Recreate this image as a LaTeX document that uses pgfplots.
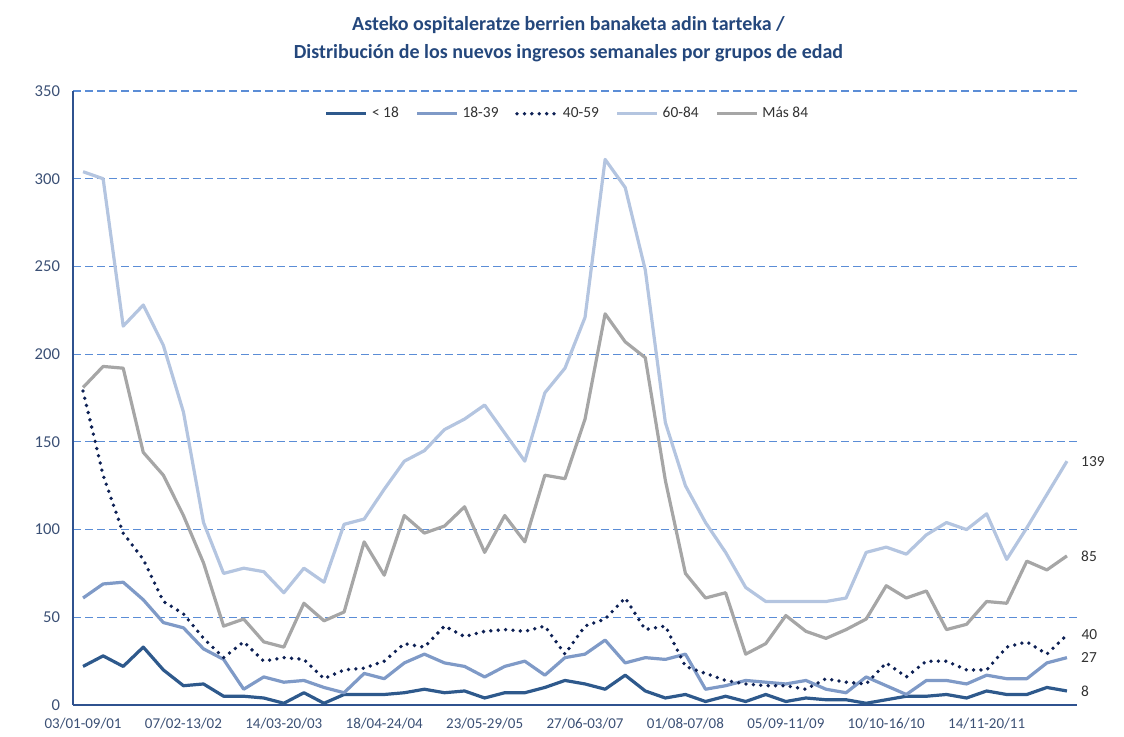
\documentclass[border=0pt]{standalone}
\usepackage{fontspec}
\setmainfont{Carlito}
\usepackage{pgfplots}
\usepackage{pgfplotstable}
\pgfplotsset{compat=1.18}
\definecolor{cA}{RGB}{46,89,140}
\definecolor{cB}{RGB}{127,154,199}
\definecolor{cC}{RGB}{13,32,84}
\definecolor{cD}{RGB}{180,197,224}
\definecolor{cE}{RGB}{166,166,166}
\definecolor{gridc}{RGB}{91,141,214}
\definecolor{axisc}{RGB}{47,82,143}
\definecolor{tickc}{RGB}{59,80,117}
\definecolor{titlec}{RGB}{36,71,124}
\definecolor{legc}{RGB}{50,50,50}
\pgfplotstableread{
x u18 a1839 a4059 a6084 m84
0  22 61 179 304 181
1  28 69 131 300 193
2  22 70 98 216 192
3  33 60 83 228 144
4  20 47 59 205 131
5  11 44 52 167 108
6  12 32 38 104 81
7  5 26 27 75 45
8  5 9 36 78 49
9  4 16 25 76 36
10 1 13 27 64 33
11 7 14 26 78 58
12 1 10 15 70 48
13 6 7 20 103 53
14 6 18 21 106 93
15 6 15 25 123 74
16 7 24 35 139 108
17 9 29 33 145 98
18 7 24 45 157 102
19 8 22 39 163 113
20 4 16 42 171 87
21 7 22 43 155 108
22 7 25 42 139 93
23 10 17 45 178 131
24 14 27 29 192 129
25 12 29 45 221 163
26 9 37 49 311 223
27 17 24 61 295 207
28 8 27 43 248 198
29 4 26 45 161 128
30 6 29 22 125 75
31 2 9 18 104 61
32 5 11 14 87 64
33 2 14 12 67 29
34 6 13 11 59 35
35 2 12 11 59 51
36 4 14 9 59 42
37 3 9 15 59 38
38 3 7 13 61 43
39 1 16 12 87 49
40 3 11 24 90 68
41 5 6 16 86 61
42 5 14 25 97 65
43 6 14 25 104 43
44 4 12 20 100 46
45 8 17 20 109 59
46 6 15 33 83 58
47 6 15 36 101 82
48 10 24 29 120 77
49 8 27 40 139 85
}\data
\begin{document}
\begin{tikzpicture}
\useasboundingbox (-36.5pt,-15.5pt) rectangle (525.5pt,352.5pt);
\begin{axis}[
  scale only axis, width=502pt, height=307pt,
  xmin=-0.5, xmax=49.5, ymin=0, ymax=350,
  axis x line*=bottom, axis y line*=left,
  xtick={0,5,...,45},
  xticklabels={03/01-09/01,07/02-13/02,14/03-20/03,18/04-24/04,23/05-29/05,27/06-03/07,01/08-07/08,05/09-11/09,10/10-16/10,14/11-20/11},
  ytick={0,50,...,350},
  major tick length=0pt,
  ymajorgrids,
  grid style={dash pattern=on 4pt off 2pt, gridc, line width=0.6pt},
  axis line style={axisc, line width=0.8pt},
  tick label style={font=\fontsize{7.5}{9}\selectfont, text=tickc},
  /pgf/number format/assume math mode=true,
  xticklabel style={yshift=-3pt},
  yticklabel style={xshift=-3pt, font=\fontsize{8.3}{10}\selectfont},
  clip=false,
  legend columns=5,
  legend cell align=left,
  legend style={draw=none, fill=none, at={(0.4935,0.963)}, anchor=center,
    font=\fontsize{7.7}{9}\selectfont, text=legc,
    /tikz/every even column/.append style={column sep=6.3pt}},
  legend image code/.code={\draw[#1] (0pt,0pt) -- (20pt,0pt);},
  every axis plot/.append style={line join=round},
]
\addplot[cA, line width=1.6pt] table[x=x,y=u18]{\data} node[pos=1,anchor=west,xshift=3pt,text=legc,font=\fontsize{7.7}{9}\selectfont]{8};
\addlegendentry{< 18}
\addplot[cB, line width=1.6pt] table[x=x,y=a1839]{\data} node[pos=1,anchor=west,xshift=3pt,text=legc,font=\fontsize{7.7}{9}\selectfont]{27};
\addlegendentry{18-39}
\addplot[cC, line width=1.9pt, dash pattern=on 0pt off 3.7pt, line cap=round] table[x=x,y=a4059]{\data} node[pos=1,anchor=west,xshift=3pt,text=legc,font=\fontsize{7.7}{9}\selectfont]{40};
\addlegendentry{40-59}
\addplot[cD, line width=1.6pt] table[x=x,y=a6084]{\data} node[pos=1,anchor=west,xshift=3pt,text=legc,font=\fontsize{7.7}{9}\selectfont]{139};
\addlegendentry{60-84}
\addplot[cE, line width=1.6pt] table[x=x,y=m84]{\data} node[pos=1,anchor=west,xshift=3pt,text=legc,font=\fontsize{7.7}{9}\selectfont]{85};
\addlegendentry{Más 84}
\node[anchor=base, font=\bfseries\fontsize{10}{12}\selectfont, text=titlec] at ([yshift=30.5pt]rel axis cs:0.4935,1) {Asteko ospitaleratze berrien banaketa adin tarteka /};
\node[anchor=base, font=\bfseries\fontsize{10}{12}\selectfont, text=titlec] at ([yshift=16.5pt]rel axis cs:0.4935,1) {Distribución de los nuevos ingresos semanales por grupos de edad};
\end{axis}
\end{tikzpicture}
\end{document}
